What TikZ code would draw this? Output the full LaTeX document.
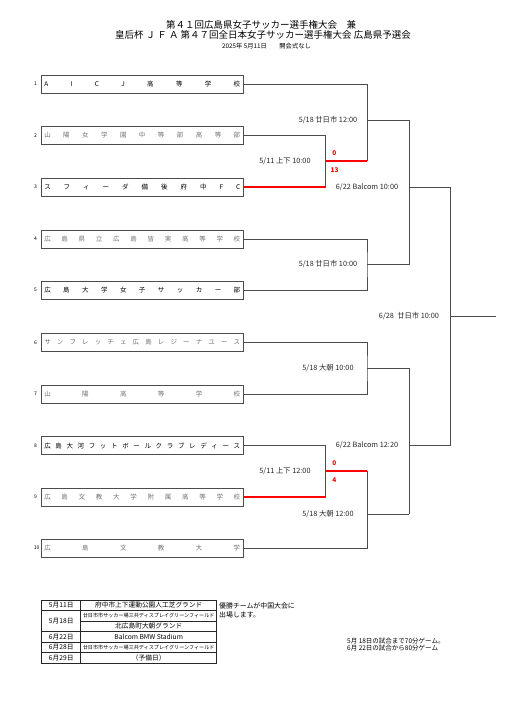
\documentclass[tikz,border=0pt]{standalone}
\usepackage{fontspec}
\setmainfont{Noto Sans CJK JP}
\usetikzlibrary{calc, positioning}

\newcommand{\spreadname}[1]{\makebox[196pt][s]{#1}}

\begin{document}
\begin{tikzpicture}[x=1pt, y=-1pt,
  team/.style={draw=black!70, line width=0.6pt, minimum width=201.5pt, minimum height=18pt, inner sep=0pt, font=\fontsize{6.5}{7}\selectfont},
  teamdark/.style={team, text=black},
  teamgray/.style={team, text=black!55},
  seed/.style={font=\fontsize{5}{6}\selectfont, inner sep=0pt},
  bline/.style={draw=black!70, line width=0.75pt},
  winline/.style={draw=red, line width=1.5pt},
  match/.style={font=\fontsize{7.3}{8}\selectfont, text=black!85, inner sep=0pt},
  score/.style={font=\bfseries\fontsize{6.5}{7}\selectfont, text=red, inner sep=0pt},
  tline/.style={draw=black!85, line width=0.6pt},
  cell/.style={font=\fontsize{6.7}{8}\selectfont, inner sep=0pt},
  smallcell/.style={font=\fontsize{5.1}{6}\selectfont, inner sep=0pt},
  note/.style={anchor=west, inner sep=0pt},
]
\useasboundingbox (0,0) rectangle (531,713);

\def\xbox{142.25}
\def\xa{325.7}
\def\xb{367}
\def\xc{409}
\def\xd{450.7}
\def\xe{495.7}
\def\tl{41.7}
\def\tm{80.7}
\def\tr{216.7}

\node[anchor=west, inner sep=0pt, font=\fontsize{9.5}{11}\selectfont] (title1) at (166,24.5) {第４１回広島県女子サッカー選手権大会　兼};
\node[anchor=west, inner sep=0pt, font=\fontsize{9.5}{11}\selectfont] (title2) at (115,35) {皇后杯 Ｊ Ｆ Ａ 第４７回全日本女子サッカー選手権大会 広島県予選会};
\node[inner sep=0pt, font=\fontsize{6.3}{7}\selectfont] (title3) at (266.5,46.5) {2025年 5月11日　　開会式なし};

\node[teamdark] (t1) at (\xbox,84) {\spreadname{A I C J 高 等 学 校}};
\node[teamgray] (t2) at (\xbox,135.5) {\spreadname{山 陽 女 学 園 中 等 部 高 等 部}};
\node[teamdark] (t3) at (\xbox,187) {\spreadname{ス フ ィ ー ダ 備 後 府 中 F C}};
\node[teamgray] (t4) at (\xbox,239) {\spreadname{広 島 県 立 広 島 皆 実 高 等 学 校}};
\node[teamdark] (t5) at (\xbox,290) {\spreadname{広 島 大 学 女 子 サ ッ カ ー 部}};
\node[teamgray] (t6) at (\xbox,342.5) {\spreadname{サ ン フ レ ッ チ ェ 広 島 レ ジ ー ナ ユ ー ス}};
\node[teamgray] (t7) at (\xbox,394) {\spreadname{山 陽 高 等 学 校}};
\node[teamdark] (t8) at (\xbox,445.5) {\spreadname{広 島 大 河 フ ッ ト ボ ー ル ク ラ ブ レ デ ィ ー ス}};
\node[teamgray] (t9) at (\xbox,497) {\spreadname{広 島 文 教 大 学 附 属 高 等 学 校}};
\node[teamgray] (t10) at (\xbox,548) {\spreadname{広 島 文 教 大 学}};

\node[seed, left=4pt of t1] (n1) {1};
\node[seed, left=4pt of t2] (n2) {2};
\node[seed, left=4pt of t3] (n3) {3};
\node[seed, left=4pt of t4] (n4) {4};
\node[seed, left=4pt of t5] (n5) {5};
\node[seed, left=4pt of t6] (n6) {6};
\node[seed, left=4pt of t7] (n7) {7};
\node[seed, left=4pt of t8] (n8) {8};
\node[seed, left=4pt of t9] (n9) {9};
\node[seed, left=1.5pt of t10] (n10) {10};

\coordinate (j23) at (\xa,161);
\coordinate (w23) at (\xb,161);
\coordinate (h1) at (\xb,120);
\coordinate (q1) at (\xc,120);
\coordinate (h2) at (\xb,264.5);
\coordinate (q2) at (\xc,264.5);
\coordinate (h5) at (\xc,187.7);
\coordinate (s1) at (\xd,187.7);
\coordinate (h3) at (\xb,368.3);
\coordinate (q3) at (\xc,368.3);
\coordinate (j89) at (\xa,471);
\coordinate (w89) at (\xb,471);
\coordinate (h4) at (\xb,514);
\coordinate (q4) at (\xc,514);
\coordinate (h6) at (\xc,445.7);
\coordinate (s2) at (\xd,445.7);
\coordinate (fin) at (\xd,316);
\coordinate (champ) at (\xe,316);

\draw[bline] (t2.east) -| (j23);
\draw[bline] (t1.east) -| (w23);
\draw[bline] (h1) -- (q1);
\draw[bline] (t4.east) -| (h2) |- (t5.east);
\draw[bline] (h2) -- (q2);
\draw[bline] (q1) -- (q2);
\draw[bline] (h5) -- (s1);
\draw[bline] (t6.east) -| (h3) |- (t7.east);
\draw[bline] (h3) -- (q3);
\draw[bline] (t8.east) -| (j89);
\draw[bline] (w89) |- (t10.east);
\draw[bline] (h4) -- (q4);
\draw[bline] (q3) -- (q4);
\draw[bline] (h6) -- (s2);
\draw[bline] (s1) -- (s2);
\draw[bline] (fin) -- (champ);
\draw[winline] (t3.east) -| (j23) -- (w23);
\draw[winline] (t9.east) -| (j89) -- (w89);

\node[match] (l1) at (285,161) {5/11 上下 10:00};
\node[match] (l2) at (328,120) {5/18 廿日市 12:00};
\node[match] (l3) at (328,264.5) {5/18 廿日市 10:00};
\node[match] (l4) at (367,187.7) {6/22 Balcom 10:00};
\node[match] (l5) at (409,316) {6/28\ \ 廿日市 10:00};
\node[match] (l6) at (328,368.3) {5/18 大朝 10:00};
\node[match] (l7) at (285,471) {5/11 上下 12:00};
\node[match] (l8) at (328,514) {5/18 大朝 12:00};
\node[match] (l9) at (367,445.7) {6/22 Balcom 12:20};

\node[score] (sc1) at (334.3,152.7) {0};
\node[score] (sc2) at (334.5,170) {13};
\node[score] (sc3) at (334.3,462.7) {0};
\node[score] (sc4) at (334.3,480) {4};

\draw[tline] (\tl,600) rectangle (\tr,663);
\draw[tline] (\tm,600) -- (\tm,663);
\draw[tline] (\tl,610.5) -- (\tr,610.5);
\draw[tline] (\tm,621) -- (\tr,621);
\draw[tline] (\tl,631.5) -- (\tr,631.5);
\draw[tline] (\tl,642) -- (\tr,642);
\draw[tline] (\tl,652.5) -- (\tr,652.5);

\node[cell] (d1) at (61.2,605.25) {5月11日};
\node[cell] (d2) at (61.2,620.75) {5月18日};
\node[cell] (d3) at (61.2,636.75) {6月22日};
\node[cell] (d4) at (61.2,647.25) {6月28日};
\node[cell] (d5) at (61.2,657.75) {6月29日};
\node[cell] (v1) at (148.7,605.25) {府中市上下運動公園人工芝グランド};
\node[smallcell] (v2) at (148.7,615.75) {廿日市市サッカー場三共ディスプレイグリーンフィールド};
\node[cell] (v3) at (148.7,626.25) {北広島町大朝グランド};
\node[cell] (v4) at (148.7,636.75) {Balcom BMW Stadium};
\node[smallcell] (v5) at (148.7,647.25) {廿日市市サッカー場三共ディスプレイグリーンフィールド};
\node[cell] (v6) at (148.7,657.75) {（予備日）};

\node[note, font=\fontsize{6.9}{8}\selectfont] (w1) at (219,606) {優勝チームが中国大会に};
\node[note, font=\fontsize{6.9}{8}\selectfont] (w2) at (219,615) {出場します。};
\node[note, font=\fontsize{6.5}{7}\selectfont] (g1) at (347,641) {5月 18日の試合まで70分ゲーム。};
\node[note, font=\fontsize{6.5}{7}\selectfont] (g2) at (347,648.5) {6月 22日の試合から80分ゲーム};
\end{tikzpicture}
\end{document}
